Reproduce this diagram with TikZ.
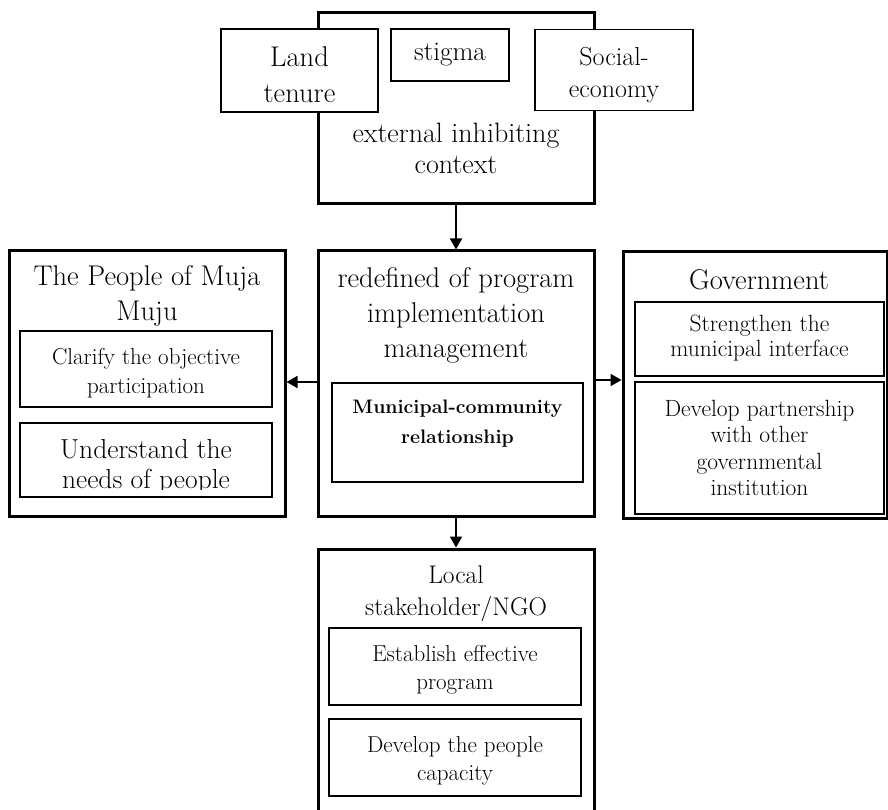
\documentclass[tikz,border=0pt]{standalone}
\usetikzlibrary{arrows.meta}
\begin{document}
\begin{tikzpicture}[x=1pt,y=-1pt,
  outerbox/.style={draw, line width=3pt, fill=white, inner sep=0pt},
  innerbox/.style={draw, line width=1.3pt, fill=white, inner sep=0pt},
  bigtxt/.style={align=center, font=\fontsize{28.5}{35}\selectfont, inner sep=0pt},
  medtxt/.style={align=center, font=\fontsize{23}{29}\selectfont, inner sep=0pt},
  smtxt/.style={align=center, font=\fontsize{23.5}{26.5}\selectfont, inner sep=0pt},
  boldtxt/.style={align=center, font=\fontsize{19.5}{30}\selectfont\bfseries, inner sep=0pt},
  conn/.style={line width=1.8pt, -{Triangle[length=11pt,width=12pt]}}]
\useasboundingbox (0,0) rectangle (888,810);

% external inhibiting context
\node[outerbox, minimum width=276pt, minimum height=191pt] (ext) at (456,108.5) {};
\node[bigtxt, font=\fontsize{28}{31}\selectfont] (extt) at (456,148) {external inhibiting\\context};
\node[innerbox, minimum width=157pt, minimum height=83pt] (land) at (299.5,70.5) {};
\node[align=center, inner sep=0pt, font=\fontsize{28.5}{36}\selectfont] (landt) at (299.5,75) {Land\\tenure};
\node[innerbox, minimum width=118pt, minimum height=52pt, font=\fontsize{27}{30}\selectfont] (stig) at (450,55) {stigma};
\node[innerbox, minimum width=158pt, minimum height=81pt] (soc) at (614,70) {};
\node[align=center, inner sep=0pt, font=\fontsize{26}{32}\selectfont] (soct) at (614,75) {Social-\\economy};

% middle
\node[outerbox, minimum width=276pt, minimum height=265pt] (mid) at (456,383.5) {};
\node[bigtxt] (midt) at (456,315) {redefined of program\\implementation\\management};
\node[innerbox, minimum width=251pt, minimum height=99pt] (muni) at (457.5,432.5) {};
\node[boldtxt] (munit) at (457.5,424) {Municipal-community\\relationship};

% left
\node[outerbox, minimum width=276pt, minimum height=265pt] (left) at (147,383.5) {};
\node[bigtxt] (leftt) at (147,296) {The People of Muja\\Muju};
\node[innerbox, minimum width=252pt, minimum height=76pt] (clar) at (146,369) {};
\node[medtxt] (clart) at (146,373) {Clarify the objective\\participation};
\node[innerbox, minimum width=252pt, minimum height=74pt] (und) at (146,460) {};
\begin{scope}
  \clip (20,423) rectangle (272,489);
  \node[font=\fontsize{27.5}{30}\selectfont, align=center, inner sep=0pt] (undt) at (146,467) {Understand the\\needs of people};
\end{scope}

% government
\node[outerbox, minimum width=264pt, minimum height=266pt] (gov) at (755,385) {};
\node[bigtxt] (govt) at (759,280) {Government};
\node[innerbox, minimum width=249pt, minimum height=74pt] (str) at (759.5,339) {};
\node[smtxt, font=\fontsize{23.5}{24.5}\selectfont] (strt) at (759.5,338) {Strengthen the\\municipal interface};
\node[innerbox, minimum width=249pt, minimum height=132pt, smtxt] (dev) at (759.5,448) {Develop partnership\\with other\\governmental\\institution};

% bottom
\node[outerbox, minimum width=276pt, minimum height=290pt] (ngo) at (456,694) {};
\node[align=center, inner sep=0pt, font=\fontsize{25.5}{32}\selectfont] (ngot) at (456,594) {Local\\stakeholder/NGO};
\node[innerbox, minimum width=252pt, minimum height=77pt] (est) at (455,666.5) {};
\node[medtxt, font=\fontsize{23}{28}\selectfont] (estt) at (455,670) {Establish effective\\program};
\node[innerbox, minimum width=252pt, minimum height=77pt] (dpc) at (455,757.5) {};
\node[medtxt, font=\fontsize{23}{28}\selectfont] (dpct) at (455,761) {Develop the people\\capacity};

% connectors
\draw[conn] (ext.south) -- (mid.north);
\draw[conn] (mid.west |- 0,382) -- (left.east |- 0,382);
\draw[conn] (mid.east |- 0,380) -- (gov.west |- 0,380);
\draw[conn] (mid.south) -- (ngo.north);
\end{tikzpicture}
\end{document}
